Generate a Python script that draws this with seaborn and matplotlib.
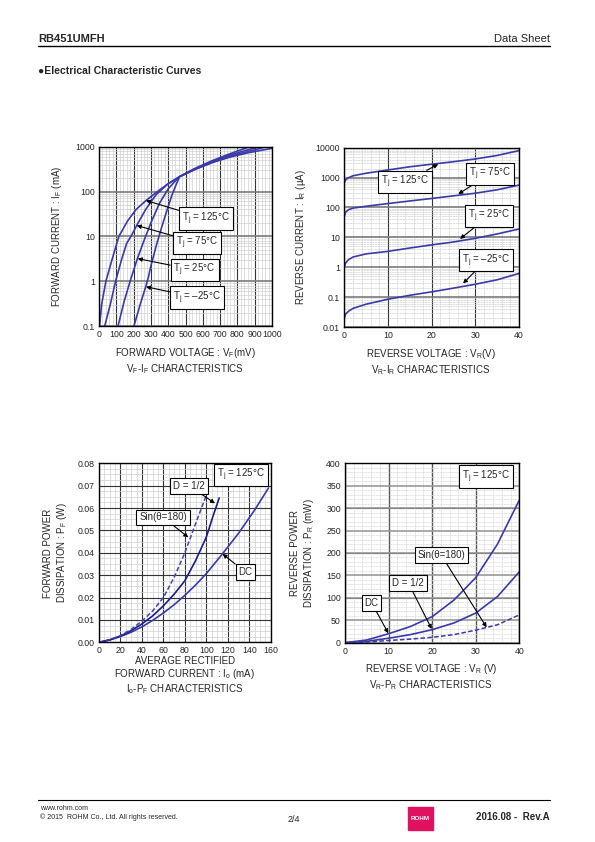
import numpy as np
import pandas as pd
import matplotlib
matplotlib.use("Agg")
import matplotlib.pyplot as plt
import seaborn as sns
from matplotlib.ticker import MultipleLocator, LogLocator, NullFormatter, FixedLocator, FixedFormatter
from matplotlib.patches import Rectangle
from matplotlib.lines import Line2D

# ---------------- data ----------------
# VF-IF (mV, mA)
vf_125_v = [3, 15, 40, 75, 115, 165, 215, 272, 330, 390, 466, 560, 660, 760, 860, 1000]
vf_125_i = [0.1, 0.3, 1, 3, 10, 22, 40, 63, 95, 140, 215, 320, 450, 590, 730, 920]
vf_75_v = [33, 65, 96, 130, 160, 185, 218, 270, 330, 400, 466, 558, 660, 770, 968]
vf_75_i = [0.1, 0.3, 1, 3, 7, 10, 17.5, 40, 85, 150, 215, 315, 455, 630, 1000]
vf_25_v = [110, 145, 180, 222, 260, 300, 350, 400, 440, 466, 555, 655, 760, 925]
vf_25_i = [0.1, 0.35, 1, 3.2, 8, 20, 55, 115, 170, 215, 318, 465, 660, 1000]
vf_m25_v = [202, 240, 270, 285, 300, 330, 360, 390, 420, 445, 466, 550, 650, 750, 870]
vf_m25_i = [0.1, 0.32, 0.75, 1.2, 2.2, 6, 15, 35, 80, 140, 215, 322, 480, 680, 1000]

# VR-IR (V, uA)
vr_v = [0, 0.3, 1, 2, 5, 10, 15, 20, 25, 30, 35, 40]
ir_125 = [650, 850, 1000, 1150, 1400, 1800, 2300, 2800, 3400, 4200, 5500, 8000]
ir_75 = [50, 70, 85, 95, 110, 135, 165, 200, 245, 300, 390, 560]
ir_25 = [1.0, 1.4, 1.8, 2.2, 2.8, 3.4, 4.4, 5.6, 7.0, 9.3, 13, 19]
ir_m25 = [0.02, 0.027, 0.034, 0.042, 0.058, 0.085, 0.115, 0.15, 0.2, 0.27, 0.38, 0.62]

# Io-PF (mA, W)
dc_io = [0, 10, 20, 30, 40, 50, 60, 70, 80, 90, 100, 115, 130, 145, 158]
dc_pf = [0, 0.0011, 0.0026, 0.0045, 0.0069, 0.0098, 0.0131, 0.0168, 0.021, 0.0256, 0.0307, 0.0395, 0.0487, 0.0591, 0.069]
half_io = [0, 10, 20, 30, 40, 50, 60, 70, 80, 90, 100, 106, 112]
half_pf = [0, 0.001, 0.0028, 0.0052, 0.0082, 0.0118, 0.0163, 0.0215, 0.0275, 0.0365, 0.047, 0.056, 0.0645]
sin_io = [0, 10, 20, 30, 40, 50, 60, 70, 80, 90, 101]
sin_pf = [0, 0.0012, 0.003, 0.0058, 0.0095, 0.014, 0.020, 0.029, 0.040, 0.053, 0.067]

# VR-PR (V, mW)
pr_v = [0, 5, 10, 15, 20, 25, 30, 35, 40]
pr_dc = [0, 6, 20, 36, 58, 95, 145, 220, 318]
pr_half = [0, 3, 10, 18, 29, 44, 66, 103, 158]
pr_sin = [0, 1.5, 5, 8, 12, 18, 28, 40, 62]

# ---------------- style ----------------
sns.set_style("white")
plt.rcParams['font.family'] = ['Liberation Sans', 'DejaVu Sans']
plt.rcParams['mathtext.fontset'] = 'custom'
plt.rcParams['mathtext.rm'] = 'Liberation Sans'
plt.rcParams['mathtext.it'] = 'Liberation Sans:italic'
plt.rcParams['mathtext.bf'] = 'Liberation Sans:bold'

CURVE = '#3a3aa8'
NAVY = '#1c1c86'
W, H = 595, 842
fig = plt.figure(figsize=(W / 100, H / 100), dpi=100)


def rect(x0, y0, x1, y1):
    return [x0 / W, 1 - y1 / H, (x1 - x0) / W, (y1 - y0) / H]


def ftext(x, y, s, **kw):
    fig.text(x / W, 1 - y / H, s, **kw)


TS = 6.3   # tick size
LS = 7.0   # label size
AS = 7.0   # annotation size
BOX = dict(boxstyle='square,pad=0.3', fc='white', ec='black', lw=0.8)
ARR = dict(arrowstyle='-|>', color='black', lw=0.8, mutation_scale=6, shrinkA=0, shrinkB=0)
LW = 1.2


def style_ax(ax):
    for s in ax.spines.values():
        s.set_color('black')
        s.set_linewidth(1.0)
    ax.tick_params(which='both', length=0, labelsize=TS, pad=3)
    ax.set_axisbelow(True)
    ax.set_xlabel('')
    ax.set_ylabel('')


def line(ax, x, y, color=CURVE, ls='-', lw=LW):
    df = pd.DataFrame({'x': x, 'y': y})
    sns.lineplot(data=df, x='x', y='y', ax=ax, color=color, linestyle=ls, lw=lw,
                 sort=False, estimator=None, legend=False)


def tj(t):
    return r'T$_\mathregular{j}$ = ' + t + '°C'


# ---------- chart 1 : VF-IF ----------
ax1 = fig.add_axes(rect(99, 146.7, 272, 326))
ax1.set_yscale('log')
for v, i in [(vf_125_v, vf_125_i), (vf_75_v, vf_75_i), (vf_25_v, vf_25_i), (vf_m25_v, vf_m25_i)]:
    line(ax1, v, i)
ax1.set_xlim(0, 1000)
ax1.set_ylim(0.1, 1000)
ax1.xaxis.set_minor_locator(MultipleLocator(20))
ax1.yaxis.set_major_locator(FixedLocator([0.1, 1, 10, 100, 1000]))
ax1.yaxis.set_major_formatter(FixedFormatter(['0.1', '1', '10', '100', '1000']))
ax1.yaxis.set_minor_locator(LogLocator(base=10, subs=np.arange(2, 10) * 1.0, numticks=20))
ax1.yaxis.set_minor_formatter(NullFormatter())
ax1.set_xticks(range(0, 1001, 100))
ax1.set_xticklabels([str(t) for t in range(0, 1001, 100)])
ax1.grid(which='minor', color='#d0d0d0', lw=0.5)
ax1.grid(which='major', axis='x', color='#333333', lw=0.8)
ax1.grid(which='major', axis='y', color='#7a7a7a', lw=1.2)
style_ax(ax1)
for t, xy, xyt in [('125', (271.7, 63), (617, 25)), ('75', (218, 17.5), (568, 7.2)),
                   ('25', (223.7, 3.19), (553, 1.77)), ('–25', (271.7, 0.75), (568, 0.43))]:
    ax1.annotate(tj(t), xy=xy, xytext=xyt, fontsize=AS, ha='center', va='center',
                 bbox=BOX, arrowprops=ARR)

ftext(185, 361, 'FORWARD VOLTAGE : V$_\\mathregular{F}$(mV)\nV$_\\mathregular{F}$-I$_\\mathregular{F}$ CHARACTERISTICS',
      fontsize=LS, ha='center', va='center', linespacing=1.15)
ftext(57, 236, r'FORWARD CURRENT : I$_\mathregular{F}$ (mA)', fontsize=LS, ha='center', va='center', rotation=90)

# ---------- chart 2 : VR-IR ----------
ax2 = fig.add_axes(rect(344.3, 147.7, 519, 327))
ax2.set_yscale('log')
for i in [ir_125, ir_75, ir_25, ir_m25]:
    line(ax2, vr_v, i)
ax2.set_xlim(0, 40)
ax2.set_ylim(0.01, 10000)
ax2.xaxis.set_major_locator(MultipleLocator(10))
ax2.xaxis.set_minor_locator(MultipleLocator(2))
yt2 = [0.01, 0.1, 1, 10, 100, 1000, 10000]
ax2.yaxis.set_major_locator(FixedLocator(yt2))
ax2.yaxis.set_major_formatter(FixedFormatter(['0.01', '0.1', '1', '10', '100', '1000', '10000']))
ax2.yaxis.set_minor_locator(LogLocator(base=10, subs=np.arange(2, 10) * 1.0, numticks=20))
ax2.yaxis.set_minor_formatter(NullFormatter())
ax2.grid(which='minor', color='#d0d0d0', lw=0.5, ls=(0, (3, 1)))
ax2.grid(which='major', axis='x', color='#333333', lw=0.8)
ax2.grid(which='major', axis='y', color='#7a7a7a', lw=1.2)
style_ax(ax2)
for t, xy, xyt in [('125', (21.5, 2800), (13.9, 719)), ('75', (26.1, 280), (33.4, 1349)),
                   ('25', (26.5, 8.85), (33.1, 52)), ('–25', (27.2, 0.286), (32.4, 1.70))]:
    ax2.annotate(tj(t), xy=xy, xytext=xyt, fontsize=AS, ha='center', va='center',
                 bbox=BOX, arrowprops=ARR)

ftext(431, 362, 'REVERSE VOLTAGE : V$_\\mathregular{R}$(V)\nV$_\\mathregular{R}$-I$_\\mathregular{R}$ CHARACTERISTICS',
      fontsize=LS, ha='center', va='center', linespacing=1.15)
ftext(301, 237, r'REVERSE CURRENT : I$_\mathregular{R}$ (µA)', fontsize=LS, ha='center', va='center', rotation=90)

# ---------- chart 3 : Io-PF ----------
ax3 = fig.add_axes(rect(99, 463.3, 270.7, 642.3))
line(ax3, dc_io, dc_pf)
line(ax3, half_io, half_pf, color=NAVY)
line(ax3, sin_io, sin_pf, ls=(0, (3, 1.5)), lw=1.1, color='#4444b0')
ax3.set_xlim(0, 160)
ax3.set_ylim(0, 0.08)
ax3.xaxis.set_major_locator(MultipleLocator(20))
ax3.xaxis.set_minor_locator(MultipleLocator(5))
ax3.yaxis.set_major_locator(MultipleLocator(0.01))
ax3.yaxis.set_minor_locator(MultipleLocator(0.0025))
ax3.yaxis.set_major_formatter(matplotlib.ticker.FormatStrFormatter('%.2f'))
ax3.grid(which='minor', color='#d0d0d0', lw=0.5)
ax3.grid(which='major', color='#333333', lw=0.8)
style_ax(ax3)
ax3.text(132.3, 0.0748, tj('125'), fontsize=AS, ha='center', va='center', bbox=BOX)
ax3.annotate('D = 1/2', xy=(108.1, 0.0621), xytext=(84, 0.070), fontsize=AS, ha='center', va='center',
             bbox=BOX, arrowprops=ARR)
ax3.annotate('Sin(θ=180)', xy=(83.2, 0.0469), xytext=(59.9, 0.0558), fontsize=AS, ha='center', va='center',
             bbox=BOX, arrowprops=ARR)
ax3.annotate('DC', xy=(115.2, 0.0395), xytext=(136.5, 0.0313), fontsize=AS, ha='center', va='center',
             bbox=BOX, arrowprops=ARR)

ftext(185, 676, 'AVERAGE RECTIFIED\nFORWARD CURRENT : I$_\\mathregular{o}$ (mA)\nI$_\\mathregular{o}$-P$_\\mathregular{F}$ CHARACTERISTICS',
      fontsize=LS, ha='center', va='center', linespacing=1.15)
ftext(56, 553, 'FORWARD POWER\nDISSIPATION : P$_\\mathregular{F}$ (W)', fontsize=LS, ha='center', va='center',
      rotation=90, linespacing=1.15)

# ---------- chart 4 : VR-PR ----------
ax4 = fig.add_axes(rect(345, 463.3, 519.3, 642.7))
line(ax4, pr_v, pr_dc)
line(ax4, pr_v, pr_half)
line(ax4, pr_v, pr_sin, ls=(0, (3, 1.5)), lw=1.1)
ax4.set_xlim(0, 40)
ax4.set_ylim(0, 400)
ax4.xaxis.set_major_locator(MultipleLocator(10))
ax4.xaxis.set_minor_locator(MultipleLocator(2))
ax4.yaxis.set_major_locator(MultipleLocator(50))
ax4.yaxis.set_minor_locator(MultipleLocator(10))
ax4.grid(which='minor', color='#d8d8d8', lw=0.5, ls=(0, (3, 1)))
ax4.grid(which='major', axis='x', color='#555555', lw=1.0)
ax4.grid(which='major', axis='y', color='#999999', lw=1.2)
for yv in [100, 200, 300]:
    ax4.axhline(yv, color='#222222', lw=0.8, zorder=0.5)
style_ax(ax4)
ax4.text(32.3, 370.6, tj('125'), fontsize=AS, ha='center', va='center', bbox=BOX)
ax4.annotate('Sin(θ=180)', xy=(32.5, 34.3), xytext=(22.1, 195), fontsize=AS, ha='center', va='center',
             bbox=BOX, arrowprops=ARR)
ax4.annotate('D = 1/2', xy=(19.9, 30.5), xytext=(14.5, 134), fontsize=AS, ha='center', va='center',
             bbox=BOX, arrowprops=ARR)
ax4.annotate('DC', xy=(9.94, 21), xytext=(6.1, 89), fontsize=AS, ha='center', va='center',
             bbox=BOX, arrowprops=ARR)

ftext(431, 677, 'REVERSE VOLTAGE : V$_\\mathregular{R}$ (V)\nV$_\\mathregular{R}$-P$_\\mathregular{R}$ CHARACTERISTICS',
      fontsize=LS, ha='center', va='center', linespacing=1.15)
ftext(303, 553, 'REVERSE POWER\nDISSIPATION : P$_\\mathregular{R}$ (mW)', fontsize=LS, ha='center', va='center',
      rotation=90, linespacing=1.15)

# ---------- page header / footer ----------
ftext(38, 39, 'RB451UMFH', fontsize=8, fontweight='bold', ha='left', va='center')
ftext(550, 39, 'Data Sheet', fontsize=8, ha='right', va='center')
fig.add_artist(Line2D([38 / W, 550 / W], [1 - 46 / H, 1 - 46 / H], color='black', lw=1.0))
ftext(38, 71, '●Electrical Characteristic Curves', fontsize=7.5, fontweight='bold', ha='left', va='center')

fig.add_artist(Line2D([38 / W, 550 / W], [1 - 800 / H, 1 - 800 / H], color='black', lw=0.8))
ftext(40, 808, 'www.rohm.com', fontsize=5, ha='left', va='center')
ftext(40, 817, '© 2015  ROHM Co., Ltd. All rights reserved.', fontsize=5, ha='left', va='center')
ftext(294, 819, '2/4', fontsize=6.5, ha='center', va='center')
fig.add_artist(Rectangle((408 / W, 1 - 830 / H), 25 / W, 23 / H, color='#e0115f', transform=fig.transFigure))
ftext(420.5, 819, 'ROHM', fontsize=4.5, fontweight='bold', color='white', ha='center', va='center')
ftext(550, 817, '2016.08 -  Rev.A', fontsize=7, fontweight='bold', ha='right', va='center')

fig.savefig('out.png', dpi=100)
